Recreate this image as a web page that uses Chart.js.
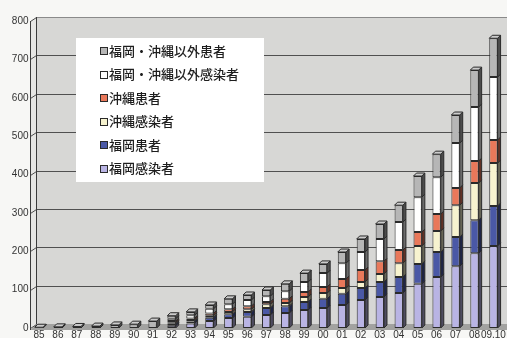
<!DOCTYPE html>
<html>
<head>
<meta charset="utf-8">
<script src="https://cdn.jsdelivr.net/npm/chart.js@4"></script>
<style>
  html, body { margin: 0; padding: 0; background: #f7f7f5; }
  #wrap { width: 507px; height: 338px; }
</style>
</head>
<body>
<div id="wrap"><canvas id="myChart" width="507" height="338"></canvas></div>
<script>
const years = ["85", "86", "87", "88", "89", "90", "91", "92", "93", "94", "95", "96", "97",
    "98", "99", "00", "01", "02", "03", "04", "05", "06", "07", "08", "09.10"];

// stacked from the bottom up
const fukuokaInfected = [0, 0, 0, 0, 0, 0, 0, 6, 12, 18, 26, 29, 34, 39, 47, 52, 60, 73, 81, 91, 115, 133, 161, 195, 214];
const fukuokaPatients = [0, 0, 0, 0, 0, 0, 0, 5, 5, 9, 10, 13, 18, 18, 21, 24, 29, 31, 39, 42, 52, 65, 76, 86, 104];
const okinawaInfected = [0, 0, 0, 0, 0, 0, 0, 3, 4, 5, 6, 7, 10, 8, 13, 15, 15, 16, 21, 36, 47, 55, 83, 97, 112];
const okinawaPatients = [0, 0, 0, 0, 0, 0, 0, 4, 4, 6, 7, 8, 6, 11, 13, 16, 24, 31, 33, 34, 36, 44, 45, 57, 60];
const otherInfected = [0, 0, 0, 0, 0, 0, 0, 6, 8, 12, 13, 16, 15, 20, 26, 36, 41, 47, 58, 73, 91, 96, 117, 141, 164];
const otherPatients = [2, 3, 4, 5, 8, 10, 18, 8, 9, 10, 14, 13, 16, 19, 23, 24, 29, 34, 39, 44, 55, 60, 73, 96, 101];

const yTicks = [0, 100, 200, 300, 400, 500, 600, 700, 800];

const series = [
    { label: "福岡感染者", data: fukuokaInfected, color: "#b9b4e4" },
    { label: "福岡患者", data: fukuokaPatients, color: "#4a58a6" },
    { label: "沖縄感染者", data: okinawaInfected, color: "#f7f3cf" },
    { label: "沖縄患者", data: okinawaPatients, color: "#e9785a" },
    { label: "福岡・沖縄以外感染者", data: otherInfected, color: "#ffffff" },
    { label: "福岡・沖縄以外患者", data: otherPatients, color: "#b6b6b6" }
];

function shade(hex, f) {
    const n = parseInt(hex.slice(1), 16);
    const r = Math.round(((n >> 16) & 255) * f);
    const g = Math.round(((n >> 8) & 255) * f);
    const b = Math.round((n & 255) * f);
    return "rgb(" + Math.min(r, 255) + "," + Math.min(g, 255) + "," + Math.min(b, 255) + ")";
}

const WALL_DX = 6, WALL_DY = 4, BAR_D = 3;

// back wall, side wall, floor and gridlines
const backdrop = {
    id: "backdrop",
    beforeDraw(chart) {
        const ctx = chart.ctx;
        const y = chart.scales.y;
        const W = chart.width;
        const L = Math.round(chart.chartArea.left) + 0.5;
        const R = L + WALL_DX;
        const top = y.getPixelForValue(800);
        const bottom = y.getPixelForValue(0);
        ctx.save();
        ctx.fillStyle = "#f7f7f5";
        ctx.fillRect(0, 0, W, chart.height);

        ctx.fillStyle = "#d7d7d5";
        ctx.fillRect(R, top - WALL_DY, W - R, bottom - top);

        ctx.beginPath();
        ctx.moveTo(L, top);
        ctx.lineTo(R, top - WALL_DY);
        ctx.lineTo(R, bottom - WALL_DY);
        ctx.lineTo(L, bottom + 2);
        ctx.closePath();
        ctx.fillStyle = "#e6e6e4";
        ctx.fill();

        ctx.beginPath();
        ctx.moveTo(L, bottom + 2);
        ctx.lineTo(R, bottom - WALL_DY);
        ctx.lineTo(W, bottom - WALL_DY);
        ctx.lineTo(W, bottom + 2);
        ctx.closePath();
        ctx.fillStyle = "#a2a2a0";
        ctx.fill();

        ctx.lineWidth = 1;
        ctx.strokeStyle = "#505050";
        yTicks.forEach(v => {
            const py = Math.round(y.getPixelForValue(v)) + 0.5;
            ctx.beginPath();
            ctx.moveTo(L, py);
            ctx.lineTo(R, py - WALL_DY);
            if (v > 0 && v < 800) ctx.lineTo(W, py - WALL_DY);
            ctx.stroke();
        });

        ctx.strokeStyle = "#8a8a8a";
        ctx.beginPath();
        ctx.moveTo(R, Math.round(top - WALL_DY) + 0.5);
        ctx.lineTo(W, Math.round(top - WALL_DY) + 0.5);
        ctx.stroke();

        ctx.strokeStyle = "#3a3a3a";
        ctx.beginPath();
        ctx.moveTo(L, top);
        ctx.lineTo(L, bottom + 2);
        ctx.moveTo(R, top - WALL_DY);
        ctx.lineTo(R, bottom - WALL_DY);
        ctx.stroke();
        ctx.restore();
    }
};

// side faces and top caps of the bars
const bars3d = {
    id: "bars3d",
    afterDatasetsDraw(chart) {
        const ctx = chart.ctx;
        const metas = chart.data.datasets.map((d, i) => chart.getDatasetMeta(i));
        ctx.save();
        ctx.lineWidth = 1;
        ctx.strokeStyle = "#2a2a2a";
        years.forEach((yr, j) => {
            let topIdx = -1;
            chart.data.datasets.forEach((ds, i) => {
                if (ds.data[j] > 0) topIdx = i;
            });
            chart.data.datasets.forEach((ds, i) => {
                if (!(ds.data[j] > 0)) return;
                const el = metas[i].data[j];
                const right = el.x + el.width / 2;
                const left = el.x - el.width / 2;
                const t = el.y, b = el.base;
                ctx.beginPath();
                ctx.moveTo(right, t);
                ctx.lineTo(right + BAR_D, t - BAR_D);
                ctx.lineTo(right + BAR_D, b - BAR_D);
                ctx.lineTo(right, b);
                ctx.closePath();
                ctx.fillStyle = shade(ds.backgroundColor, 0.42);
                ctx.fill();
                ctx.stroke();
                if (i === topIdx) {
                    ctx.beginPath();
                    ctx.moveTo(left, t);
                    ctx.lineTo(left + BAR_D, t - BAR_D);
                    ctx.lineTo(right + BAR_D, t - BAR_D);
                    ctx.lineTo(right, t);
                    ctx.closePath();
                    ctx.fillStyle = shade(ds.backgroundColor, 1.12);
                    ctx.fill();
                    ctx.stroke();
                }
            });
        });
        ctx.restore();
    }
};

// legend box inside the plot, last series on top
const boxLegend = {
    id: "boxLegend",
    afterDraw(chart) {
        const ctx = chart.ctx;
        const o = chart.options.plugins.boxLegend;
        const items = chart.data.datasets.slice().reverse();
        ctx.save();
        ctx.fillStyle = "#ffffff";
        ctx.fillRect(o.x, o.y, o.w, o.h);
        ctx.font = '500 13px "Noto Sans CJK JP"';
        ctx.textBaseline = "middle";
        items.forEach((ds, i) => {
            const cy = o.y + o.first + i * o.step;
            ctx.fillStyle = ds.backgroundColor;
            ctx.fillRect(o.x + 25, Math.round(cy) - 3, 6, 6);
            ctx.strokeStyle = "#2a2a2a";
            ctx.lineWidth = 1;
            ctx.strokeRect(o.x + 24.5, Math.round(cy) - 3.5, 7, 7);
            ctx.fillStyle = "#1e1e1e";
            ctx.fillText(ds.label, o.x + 33, cy);
        });
        ctx.restore();
    }
};

new Chart(document.getElementById("myChart"), {
    type: "bar",
    data: {
        labels: years,
        datasets: series.map(s => ({
            label: s.label,
            data: s.data,
            backgroundColor: s.color,
            borderColor: "#2a2a2a",
            borderWidth: 1,
            borderSkipped: false,
            categoryPercentage: 1,
            barPercentage: 0.44
        }))
    },
    options: {
        responsive: false,
        animation: false,
        devicePixelRatio: 1,
        layout: { padding: { top: 21, right: 3.5, left: 0, bottom: 0 } },
        plugins: {
            legend: { display: false },
            tooltip: { enabled: false },
            boxLegend: { x: 76, y: 38, w: 188, h: 144, first: 13, step: 23.5 }
        },
        scales: {
            x: {
                stacked: true,
                grid: { display: false, drawTicks: false },
                border: { display: false },
                ticks: {
                    color: "#333",
                    font: { family: "Liberation Sans", size: 10 },
                    padding: 1,
                    maxRotation: 0,
                    minRotation: 0,
                    autoSkip: false
                },
                afterFit(scale) { scale.height = 10; }
            },
            y: {
                stacked: true,
                min: 0,
                max: 800,
                grid: { display: false, drawTicks: false },
                border: { display: false },
                ticks: {
                    stepSize: 100,
                    color: "#333",
                    font: { family: "Liberation Sans", size: 10 },
                    padding: 1
                },
                afterFit(scale) { scale.width = 29.5; }
            }
        }
    },
    plugins: [backdrop, bars3d, boxLegend]
});
</script>
</body>
</html>
